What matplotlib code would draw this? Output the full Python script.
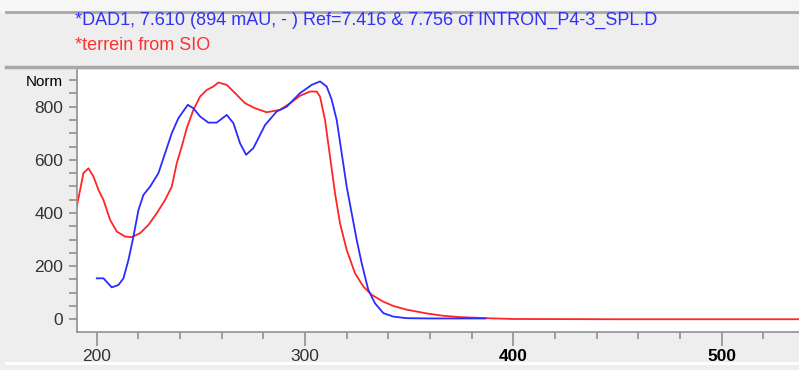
import numpy as np
import matplotlib.pyplot as plt
from matplotlib.lines import Line2D
from matplotlib.ticker import MultipleLocator

plt.rcParams['font.family'] = ['Liberation Sans', 'DejaVu Sans']

# DAD1 spectrum (blue)
dad_nm = [200, 203.2, 207.2, 210.4, 212.8, 215.2, 217.6, 220, 222.4, 225.6, 229.6, 232.8,
          236, 239.2, 243.7, 246.4, 249.6, 253.6, 257.6, 262.4, 265.6, 268.8, 271.7, 275.2,
          280.8, 286.4, 291.2, 297.6, 303.2, 307.2, 310.4, 312.8, 315.2, 317.6, 320, 322.4,
          324.8, 327.2, 330.4, 333.6, 337.6, 342.4, 348.8, 360, 375, 386.7]
dad_val = [154, 154, 120, 129, 154, 223, 311, 411, 468, 499, 550, 625,
           700, 757, 807, 794, 763, 740, 740, 769, 738, 662, 619, 644,
           731, 782, 800, 851, 882, 895, 876, 826, 750, 625, 499, 399,
           299, 211, 110, 60, 23, 10, 4, 3, 3, 3]

# terrein from SIO reference spectrum (red)
ref_nm = [190.4, 193.6, 196, 198.4, 200.8, 203.2, 206.4, 209.6, 213.6, 216.8, 220.8, 224.8,
          228.8, 232.8, 236, 238.4, 240.8, 243.2, 246.4, 249.6, 252.8, 256, 258.4, 262.4,
          266.4, 271.2, 276, 281.6, 288, 292.8, 297.6, 302.4, 305.6, 307.2, 309.6, 312,
          314.4, 316.8, 320, 324, 328, 332, 337.6, 342.4, 348.8, 358.4, 366.4, 374.4,
          386.7, 400, 450, 500, 540]
ref_val = [424, 550, 568, 537, 487, 449, 374, 330, 311, 309, 324, 355,
           399, 449, 499, 587, 650, 719, 788, 838, 863, 876, 891, 882,
           851, 813, 794, 779, 788, 813, 841, 857, 857, 838, 750, 612,
           474, 361, 261, 173, 123, 92, 66, 50, 36, 22, 13, 8,
           4, 1, 0, 0, 0]

W, H = 799, 370
fig = plt.figure(figsize=(W / 100, H / 100), dpi=100, facecolor='#eeeeee')

# header panel
fig.add_artist(plt.Rectangle((0, 1 - 12 / H), 1, 12 / H, transform=fig.transFigure,
                             color='#f6f6f6', zorder=0))
for yy, c, lw in [(12, '#a8a8a8', 2.0), (67, '#a8a8a8', 2.5), (363, '#ffffff', 2.0)]:
    fig.add_artist(Line2D([0.008, 1], [1 - yy / H] * 2, transform=fig.transFigure,
                          color=c, lw=lw))
fig.text(75 / W, 1 - 20 / H, '*DAD1, 7.610 (894 mAU, - ) Ref=7.416 & 7.756 of INTRON_P4-3_SPL.D',
         color='#3333ee', fontsize=13, va='center')
fig.text(75 / W, 1 - 45 / H, '*terrein from SIO', color='#ff3030', fontsize=13, va='center')

ax = fig.add_axes([77 / W, (H - 332) / H, (W - 77) / W, (332 - 70) / H])
ax.plot(ref_nm, ref_val, color='#ff2525', lw=1.3)
ax.plot(dad_nm, dad_val, color='#2b2bff', lw=1.3)

ax.set_xlim(190.5, 537.2)
ax.set_ylim(-48, 938)

for s in ['top', 'right']:
    ax.spines[s].set_visible(False)
for s in ['left', 'bottom']:
    ax.spines[s].set_color('#909090')
    ax.spines[s].set_linewidth(1.2)

ax.set_yticks([0, 200, 400, 600, 800, 900])
ax.set_yticklabels(['0', '200', '400', '600', '800', 'Norm'])
ax.yaxis.set_minor_locator(MultipleLocator(50))
ax.set_xticks([200, 300, 400, 500])
ax.set_xticklabels(['200', '300', '400', '500'])
ax.xaxis.set_minor_locator(MultipleLocator(20))
ax.tick_params(axis='y', which='both', length=6, width=1.2, color='#909090',
               labelsize=12.5, labelcolor='#333333', pad=4)
ax.tick_params(axis='x', which='major', length=10, width=1.2, color='#909090',
               labelsize=12.5, labelcolor='#333333', pad=2)
ax.tick_params(axis='x', which='minor', length=5, width=1.2, color='#909090')
lbls = ax.get_yticklabels()
lbls[-1].set_fontsize(11)
lbls[-1].set_color('black')
for t in ax.get_xticklabels()[2:]:
    t.set_fontweight('bold')
    t.set_color('black')

fig.savefig('out.png', dpi=100, facecolor=fig.get_facecolor())
